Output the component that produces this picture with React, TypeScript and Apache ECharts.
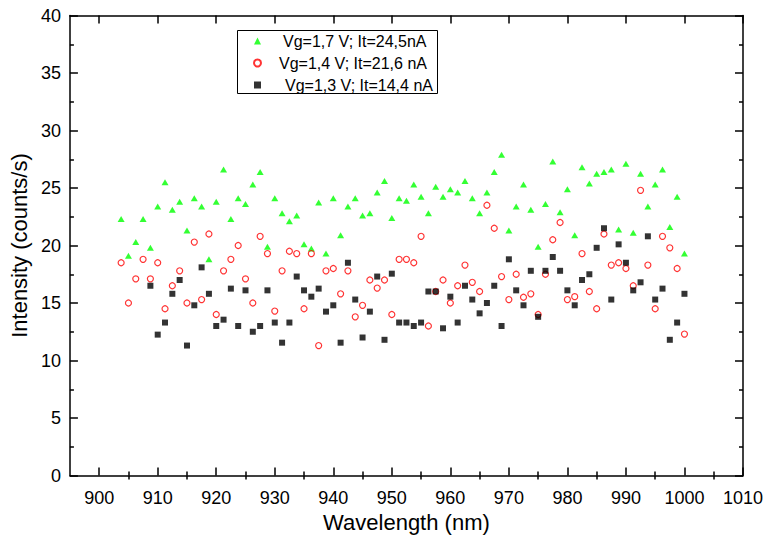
import React, { useEffect, useRef } from "react";
import * as echarts from "echarts";

const wavelengths = [
  903.75, 905.0, 906.25, 907.5, 908.75, 910.0, 911.25, 912.5, 913.75, 915.0,
  916.25, 917.5, 918.75, 920.0, 921.25, 922.5, 923.75, 925.0, 926.25, 927.5,
  928.75, 930.0, 931.25, 932.5, 933.75, 935.0, 936.25, 937.5, 938.75, 940.0,
  941.25, 942.5, 943.75, 945.0, 946.25, 947.5, 948.75, 950.0, 951.25, 952.5,
  953.75, 955.0, 956.25, 957.5, 958.75, 960.0, 961.25, 962.5, 963.75, 965.0,
  966.25, 967.5, 968.75, 970.0, 971.25, 972.5, 973.75, 975.0, 976.25, 977.5,
  978.75, 980.0, 981.25, 982.5, 983.75, 985.0, 986.25, 987.5, 988.75, 990.0,
  991.25, 992.5, 993.75, 995.0, 996.25, 997.5, 998.75, 1000.0,
];

const vg17 = [
  22.3, 19.1, 20.3, 22.3, 19.8, 23.4, 25.5, 23.1, 23.8, 21.3,
  24.1, 23.4, 18.8, 23.8, 26.6, 22.3, 24.1, 23.6, 25.3, 26.4,
  19.9, 24.1, 22.8, 22.1, 22.6, 20.1, 19.75, 23.75, 19.3, 24.1,
  20.9, 23.4, 24.1, 22.6, 22.8, 24.6, 25.6, 22.4, 24.1, 23.9,
  25.3, 24.25, 22.8, 25.1, 24.25, 24.9, 24.6, 25.6, 24.1, 22.8,
  24.6, 26.4, 27.9, 21.3, 23.4, 25.3, 23.1, 19.9, 23.6, 27.3,
  22.9, 24.9, 20.9, 26.8, 25.4, 26.25, 26.4, 26.6, 21.4, 27.1,
  21.1, 26.25, 23.4, 25.3, 26.6, 21.6, 24.25, 19.3,
];

const vg14 = [
  18.5, 15.0, 17.1, 18.8, 17.1, 18.5, 14.5, 16.5, 17.8, 15.0,
  20.3, 15.3, 21.0, 14.0, 17.8, 18.8, 20.0, 17.1, 15.0, 20.8,
  19.3, 14.3, 17.8, 19.5, 19.3, 14.5, 19.3, 11.3, 17.8, 18.0,
  15.8, 17.8, 13.8, 14.8, 17.0, 16.3, 17.0, 14.0, 18.8, 18.8,
  18.5, 20.8, 13.0, 16.0, 17.0, 15.0, 16.5, 18.3, 16.8, 16.0,
  23.5, 21.5, 17.3, 15.3, 17.5, 15.5, 15.8, 14.0, 17.5, 20.5,
  22.0, 15.3, 15.55, 19.3, 16.0, 14.5, 21.0, 18.3, 18.5, 18.0,
  16.5, 24.8, 18.3, 14.5, 20.8, 19.8, 18.0, 12.3,
];

const vg13 = [
  null, null, null, null, 16.5, 12.25, 13.3, 15.8, 17.0, 11.3,
  14.8, 18.1, 15.8, 13.0, 13.55, 16.25, 13.0, 16.1, 12.5, 13.0,
  16.1, 13.3, 11.55, 13.3, 17.3, 16.1, 15.55, 16.25, 14.25, 14.8,
  11.55, 18.5, 15.3, 12.0, 14.25, 17.3, 11.8, 17.55, 13.3, 13.3,
  13.0, 13.3, 16.0, 16.0, 12.8, 15.55, 13.3, 16.5, 15.3, 14.1,
  15.0, 16.5, 13.0, 18.8, 16.1, 14.8, 17.8, 13.8, 17.8, 19.0,
  17.8, 16.1, 14.8, 17.0, 17.5, 19.8, 21.5, 15.3, 20.1, 18.5,
  16.1, 16.8, 20.8, 15.3, 16.25, 11.8, 13.3, 15.8,
];

const seriesNames = [
  "Vg=1,7 V; It=24,5nA",
  "Vg=1,4 V; It=21,6 nA",
  "Vg=1,3 V; It=14,4 nA",
];

const xMajorTicks = [900, 910, 920, 930, 940, 950, 960, 970, 980, 990, 1000, 1010];
const xMinorTicks = [905, 915, 925, 935, 945, 955, 965, 975, 985, 995, 1005];

const FONT = 'Arial, "Liberation Sans", sans-serif';

function pairs(values: (number | null)[]) {
  const out: [number, number][] = [];
  values.forEach((v, i) => {
    if (v !== null && v !== undefined) out.push([wavelengths[i], v]);
  });
  return out;
}

export default function App() {
  const ref = useRef<HTMLDivElement>(null);

  useEffect(() => {
    if (!ref.current) return;
    const chart = echarts.init(ref.current, null, { renderer: "svg" });

    const axisLine = { show: true, onZero: false, lineStyle: { color: "#000", width: 1.5 } };
    const tickLine = { color: "#000", width: 1.5 };

    const xBase = {
      type: "value" as const,
      min: 895,
      max: 1010,
      splitLine: { show: false },
    };

    const yBase = {
      type: "value" as const,
      min: 0,
      max: 40,
      interval: 5,
      splitLine: { show: false },
      minorSplitLine: { show: false },
      axisLine,
      axisTick: { show: true, inside: true, length: 8, lineStyle: tickLine },
      minorTick: { show: true, splitNumber: 2, length: 4, lineStyle: tickLine },
    };

    chart.setOption({
      animation: false,
      backgroundColor: "#fff",
      grid: { left: 67.5, right: 23, top: 15.5, bottom: 66.5, containLabel: false },
      xAxis: [
        {
          ...xBase,
          position: "bottom",
          name: "Wavelength (nm)",
          nameLocation: "middle",
          nameGap: 36,
          nameTextStyle: { fontSize: 22, color: "#000", fontFamily: FONT },
          axisLine,
          axisTick: { show: true, inside: true, length: 8, customValues: xMajorTicks, lineStyle: tickLine },
          axisLabel: {
            show: true,
            customValues: xMajorTicks,
            fontSize: 18,
            color: "#000",
            fontFamily: FONT,
            margin: 13,
            formatter: (v: number) => String(v),
          },
        },
        {
          ...xBase,
          position: "bottom",
          axisLine: { show: false },
          axisTick: { show: true, inside: true, length: 4, customValues: xMinorTicks, lineStyle: tickLine },
          axisLabel: { show: false },
        },
        {
          ...xBase,
          position: "top",
          axisLine,
          axisTick: { show: true, inside: true, length: 8, customValues: xMajorTicks, lineStyle: tickLine },
          axisLabel: { show: false },
        },
        {
          ...xBase,
          position: "top",
          axisLine: { show: false },
          axisTick: { show: true, inside: true, length: 4, customValues: xMinorTicks, lineStyle: tickLine },
          axisLabel: { show: false },
        },
      ],
      yAxis: [
        {
          ...yBase,
          position: "left",
          name: "Intensity (counts/s)",
          nameLocation: "middle",
          nameGap: 36,
          nameRotate: 90,
          nameTextStyle: { fontSize: 22, color: "#000", fontFamily: FONT },
          axisLabel: {
            show: true,
            fontSize: 18,
            color: "#000",
            fontFamily: FONT,
            margin: 9,
            formatter: (v: number) => String(v),
          },
        },
        {
          ...yBase,
          position: "right",
          axisLabel: { show: false },
        },
      ],
      legend: {
        orient: "vertical",
        left: 253,
        top: 31,
        padding: 0,
        itemGap: 2,
        itemWidth: 7,
        itemHeight: 7,
        textStyle: { fontSize: 16, color: "#000", fontFamily: FONT, lineHeight: 20 },
        data: [
          { name: seriesNames[0], icon: "triangle", textStyle: { padding: [0, 0, 0, 17] } },
          { name: seriesNames[1], icon: "circle", textStyle: { padding: [0, 0, 0, 13] } },
          { name: seriesNames[2], icon: "rect", textStyle: { padding: [0, 0, 0, 19] } },
        ],
      },
      graphic: [
        {
          type: "rect",
          shape: { x: 237.5, y: 30.5, width: 200, height: 63 },
          style: { fill: "none", stroke: "#000", lineWidth: 1 },
          z: 10,
        },
      ],
      series: [
        {
          name: seriesNames[0],
          type: "scatter",
          symbol: "triangle",
          symbolSize: [7, 6],
          itemStyle: { color: "#00ff00" },
          data: pairs(vg17),
          z: 2,
        },
        {
          name: seriesNames[1],
          type: "scatter",
          symbol: "circle",
          symbolSize: 6,
          itemStyle: { color: "rgba(255,255,255,0)", borderColor: "#ff0000", borderWidth: 1.2 },
          data: pairs(vg14),
          z: 3,
        },
        {
          name: seriesNames[2],
          type: "scatter",
          symbol: "rect",
          symbolSize: 6,
          itemStyle: { color: "#000" },
          data: pairs(vg13),
          z: 4,
        },
      ],
    });

    return () => chart.dispose();
  }, []);

  return (
    <div
      ref={ref}
      style={{ position: "fixed", left: 0, top: 0, width: 766, height: 542, background: "#fff" }}
    />
  );
}
